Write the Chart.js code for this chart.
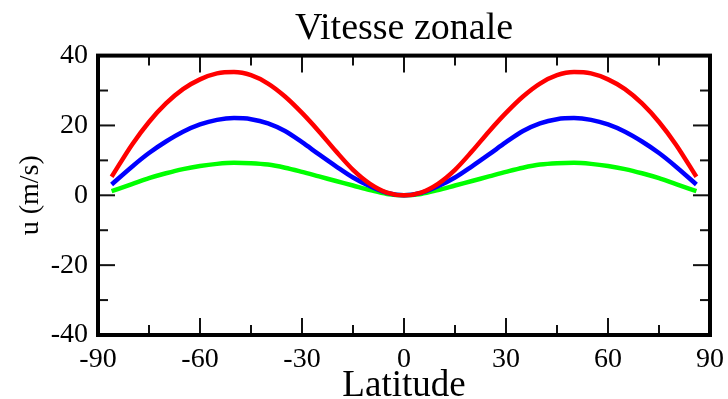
<!DOCTYPE html>
<html>
<head>
<meta charset="utf-8">
<script src="https://cdn.jsdelivr.net/npm/chart.js@4.4.1/dist/chart.umd.min.js"></script>
<style>
  html, body { margin: 0; padding: 0; background: #fff; }
  #wrap { width: 728px; height: 399px; }
</style>
</head>
<body>
<div id="wrap"><canvas id="chartVitesse"></canvas></div>
<script>
// latitudes (symetrique)
const latitudes = [-86, -80, -75, -70, -65, -60, -55, -50, -45, -40, -35, -30, -25, -20, -15, -10, -5, 0,
                   5, 10, 15, 20, 25, 30, 35, 40, 45, 50, 55, 60, 65, 70, 75, 80, 86];
const uRouge = [5.3, 14.5, 21, 26.3, 30.4, 33.2, 34.9, 35.3, 34.4, 32.0, 28.3, 23.6, 18.3, 12.6, 7.3, 3.3, 0.8, 0,
                0.8, 3.3, 7.3, 12.6, 18.3, 23.6, 28.3, 32.0, 34.4, 35.3, 34.9, 33.2, 30.4, 26.3, 21, 14.5, 5.3];
const uBleu = [3.1, 8.2, 12.1, 15.4, 18.2, 20.3, 21.6, 22.1, 21.8, 20.6, 18.4, 15.2, 11.7, 8.3, 5.1, 2.6, 0.7, 0,
               0.7, 2.6, 5.1, 8.3, 11.7, 15.2, 18.4, 20.6, 21.8, 22.1, 21.6, 20.3, 18.2, 15.4, 12.1, 8.2, 3.1];
const uVert = [1.2, 3.2, 4.9, 6.3, 7.5, 8.4, 9.0, 9.3, 9.2, 8.8, 7.9, 6.7, 5.4, 4.1, 2.8, 1.5, 0.4, 0,
               0.4, 1.5, 2.8, 4.1, 5.4, 6.7, 7.9, 8.8, 9.2, 9.3, 9.0, 8.4, 7.5, 6.3, 4.9, 3.2, 1.2];

const xTicks = [-90, -60, -30, 0, 30, 60, 90];
const xMinor = [-75, -45, -15, 15, 45, 75];
const yTicks = [-40, -20, 0, 20, 40];
const yMinor = [-30, -10, 10, 30];

const police = "'Liberation Serif', 'DejaVu Serif', serif";

function points(valeurs) {
    return latitudes.map((lat, i) => ({ x: lat, y: valeurs[i] }));
}

function serie(label, valeurs, couleur) {
    return {
        label,
        data: points(valeurs),
        borderColor: couleur,
        backgroundColor: couleur,
        borderWidth: 4.5,
        pointRadius: 0,
        cubicInterpolationMode: "monotone",
        fill: false
    };
}

// cadre epais + graduations vers l'interieur sur les 4 cotes
const cadre = {
    id: "cadre",
    afterDatasetsDraw(chart) {
        const { ctx, chartArea: a, scales } = chart;
        const sx = scales.x, sy = scales.y;
        ctx.save();
        ctx.strokeStyle = "#111";
        ctx.lineWidth = 2;
        const trait = (x1, y1, x2, y2) => {
            ctx.beginPath();
            ctx.moveTo(x1, y1);
            ctx.lineTo(x2, y2);
            ctx.stroke();
        };
        const grand = 17, petit = 10;
        xTicks.forEach(v => {
            const x = sx.getPixelForValue(v);
            trait(x, a.bottom, x, a.bottom - grand);
            trait(x, a.top, x, a.top + grand);
        });
        xMinor.forEach(v => {
            const x = sx.getPixelForValue(v);
            trait(x, a.bottom, x, a.bottom - petit);
            trait(x, a.top, x, a.top + petit);
        });
        yTicks.forEach(v => {
            const y = sy.getPixelForValue(v);
            trait(a.left, y, a.left + grand, y);
            trait(a.right, y, a.right - grand, y);
        });
        yMinor.forEach(v => {
            const y = sy.getPixelForValue(v);
            trait(a.left, y, a.left + petit, y);
            trait(a.right, y, a.right - petit, y);
        });
        ctx.lineWidth = 4;
        ctx.strokeStyle = "#000";
        ctx.strokeRect(a.left, a.top, a.right - a.left, a.bottom - a.top);
        ctx.restore();
    }
};

new Chart(document.getElementById("chartVitesse"), {
    type: "line",
    data: {
        datasets: [
            serie("rouge", uRouge, "#ff0000"),
            serie("bleu", uBleu, "#0000ff"),
            serie("vert", uVert, "#00ff00")
        ]
    },
    options: {
        responsive: true,
        maintainAspectRatio: false,
        animation: false,
        layout: { padding: { left: 0, right: 18, top: 0, bottom: 0 } },
        plugins: {
            legend: { display: false },
            tooltip: { enabled: false },
            title: {
                display: true,
                fullSize: false,
                text: "Vitesse zonale",
                color: "#000",
                font: { family: police, size: 38, weight: "normal", lineHeight: 1.2 },
                padding: { top: 6, bottom: 4 }
            }
        },
        scales: {
            x: {
                type: "linear",
                min: -90,
                max: 90,
                grid: { display: false },
                border: { display: false },
                afterBuildTicks(scale) { scale.ticks = xTicks.map(v => ({ value: v })); },
                afterFit(scale) { scale.height = 64; },
                ticks: {
                    color: "#000",
                    padding: 0,
                    maxRotation: 0,
                    font: { family: police, size: 28 }
                },
                title: {
                    display: true,
                    text: "Latitude",
                    color: "#000",
                    font: { family: police, size: 37, lineHeight: 0.45 }
                }
            },
            y: {
                min: -40,
                max: 40,
                grid: { display: false },
                border: { display: false },
                afterBuildTicks(scale) { scale.ticks = yTicks.map(v => ({ value: v })); },
                afterFit(scale) { scale.width = 98; },
                ticks: {
                    color: "#000",
                    padding: 2,
                    font: { family: police, size: 28 }
                },
                title: {
                    display: true,
                    text: "u (m/s)",
                    color: "#000",
                    font: { family: police, size: 28, lineHeight: 1.93 }
                }
            }
        }
    },
    plugins: [cadre]
});
</script>
</body>
</html>
